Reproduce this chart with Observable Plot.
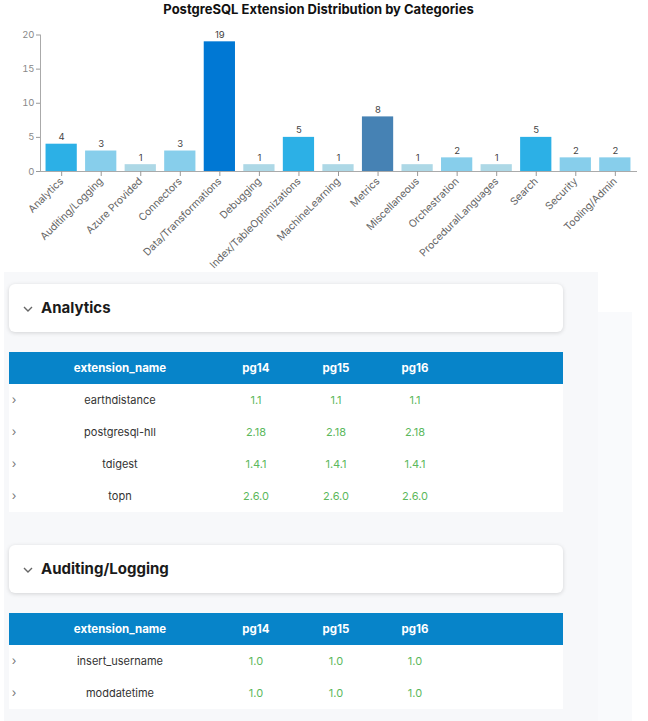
<!DOCTYPE html>
<html>
<head>
<meta charset="utf-8">
<script src="https://cdn.jsdelivr.net/npm/d3@7"></script>
<script src="https://cdn.jsdelivr.net/npm/@observablehq/plot@0.6"></script>
<style>
  html, body { margin: 0; padding: 0; background: #fff; }
  body { width: 648px; height: 721px; overflow: hidden; position: relative; font-family: Inter, "Open Sans", sans-serif; }
  #title { position: absolute; top: 0; left: 0; width: 637px; height: 20px; line-height: 18px; text-align: center; font-weight: 700; font-size: 13px; color: #111; }
  #chart { position: absolute; top: 20px; left: 0; }
  #panel { position: absolute; top: 272px; left: 4px; width: 594px; height: 449px; background: #f7f8fa; }
  #panel2 { position: absolute; top: 312px; left: 598px; width: 34px; height: 409px; background: #f9fafc; }
  .card { position: absolute; left: 9px; width: 554px; height: 48px; background: #fff; border-radius: 6px; box-shadow: 0 1px 4px rgba(0,0,0,0.15); }
  .card .name { position: absolute; left: 32px; top: 0; line-height: 48px; font-weight: 700; font-size: 15px; color: #1a1a1a; }
  .thead { position: absolute; left: 9px; width: 554px; height: 32px; background: #0784c9; }
  .row { position: absolute; left: 9px; width: 554px; height: 32px; background: #fff; }
  .cell { position: absolute; top: 0; height: 32px; line-height: 32px; text-align: center; white-space: nowrap; }
  .thead .cell { color: #fff; font-weight: 700; font-size: 11.5px; }
  .row .cell { color: #333; font-size: 11px; }
  .row .ver { color: #5cb85c; font-size: 11px; }
  .row .arrow { color: #777; font-size: 12px; }
</style>
</head>
<body>
<div id="title">PostgreSQL Extension Distribution by Categories</div>
<div id="chart"></div>
<div id="panel"></div>
<div id="panel2"></div>
<div id="sections"></div>
<script>
// ---- chart data ----
const categories = ["Analytics", "Auditing/Logging", "Azure Provided", "Connectors", "Data/Transformations", "Debugging", "Index/TableOptimizations", "MachineLearning", "Metrics", "Miscellaneous", "Orchestration", "ProceduralLanguages", "Search", "Security", "Tooling/Admin"];
const counts = [4, 3, 1, 3, 19, 1, 5, 1, 8, 1, 2, 1, 5, 2, 2];
const yTicks = [0, 5, 10, 15, 20];

// ---- table data ----
const sectionNames = ["Analytics", "Auditing/Logging"];
const analyticsExtensions = ["earthdistance", "postgresql-hll", "tdigest", "topn"];
const analyticsPg14 = ["1.1", "2.18", "1.4.1", "2.6.0"];
const analyticsPg15 = ["1.1", "2.18", "1.4.1", "2.6.0"];
const analyticsPg16 = ["1.1", "2.18", "1.4.1", "2.6.0"];
const auditingExtensions = ["insert_username", "moddatetime"];
const auditingPg14 = ["1.0", "1.0"];
const auditingPg15 = ["1.0", "1.0"];
const auditingPg16 = ["1.0", "1.0"];
const columnNames = ["extension_name", "pg14", "pg15", "pg16"];

const rows = categories.map((c, i) => ({category: c, count: counts[i]}));

const chart = Plot.plot({
  width: 648,
  height: 250,
  marginLeft: 40,
  marginRight: 12,
  marginTop: 14.5,
  marginBottom: 99,
  style: {fontFamily: "Inter, 'Open Sans', sans-serif", fontSize: "9px", color: "#777", background: "transparent"},
  x: {domain: categories, paddingInner: 0.21, paddingOuter: 0.14, round: false, label: null},
  y: {domain: [0, 20], label: null},
  color: {type: "threshold", domain: [2, 4, 6, 10], range: ["#add8e6", "#87ceeb", "#2cb0e6", "#4682b4", "#0078d4"]},
  marks: [
    Plot.barY(rows, {x: "category", y: "count", fill: "count"}),
    Plot.text(rows, {x: "category", y: "count", text: d => String(d.count), dy: -7, fill: "#444", fontSize: 9.5}),
    Plot.frame({anchor: "left", stroke: "#aaa"}),
    Plot.frame({anchor: "bottom", stroke: "#aaa"}),
    Plot.axisY({ticks: yTicks, tickSize: 4, tickPadding: 2, stroke: "#999", fill: "#888", fontSize: 9.5, label: null}),
    Plot.axisX({tickRotate: -45, tickSize: 5, tickPadding: 3, stroke: "#999", fill: "#666", fontSize: 10.3, label: null})
  ]
});
document.getElementById("chart").appendChild(chart);

// ---- sections ----
const sections = [
  {name: sectionNames[0], ext: analyticsExtensions, v14: analyticsPg14, v15: analyticsPg15, v16: analyticsPg16},
  {name: sectionNames[1], ext: auditingExtensions, v14: auditingPg14, v15: auditingPg15, v16: auditingPg16}
];
const colCenters = [111, 247, 327, 406]; // relative to table left
const colWidth = [170, 80, 80, 80];
const root = document.getElementById("sections");
let yPos = 284;
function cell(parent, text, center, w, cls) {
  const s = document.createElement("span");
  s.className = "cell" + (cls ? " " + cls : "");
  s.style.left = (center - w / 2) + "px";
  s.style.width = w + "px";
  s.textContent = text;
  parent.appendChild(s);
}
sections.forEach(sec => {
  const card = document.createElement("div");
  card.className = "card";
  card.style.top = yPos + "px";
  card.innerHTML = '<svg viewBox="0 0 10 8" style="position:absolute;left:14px;top:21px;width:10px;height:8px"><path d="M1 2 L5 6 L9 2" fill="none" stroke="#666" stroke-width="1.4"/></svg>';
  const nm = document.createElement("span");
  nm.className = "name";
  nm.textContent = sec.name;
  card.appendChild(nm);
  root.appendChild(card);
  yPos += 68;
  const head = document.createElement("div");
  head.className = "thead";
  head.style.top = yPos + "px";
  columnNames.forEach((c, i) => cell(head, c, colCenters[i], colWidth[i]));
  root.appendChild(head);
  yPos += 32;
  sec.ext.forEach((e, i) => {
    const r = document.createElement("div");
    r.className = "row";
    r.style.top = yPos + "px";
    const a = document.createElement("span");
    a.className = "cell arrow";
    a.style.left = "0px"; a.style.width = "10px";
    a.textContent = "›";
    r.appendChild(a);
    cell(r, e, colCenters[0], colWidth[0]);
    cell(r, sec.v14[i], colCenters[1], colWidth[1], "ver");
    cell(r, sec.v15[i], colCenters[2], colWidth[2], "ver");
    cell(r, sec.v16[i], colCenters[3], colWidth[3], "ver");
    root.appendChild(r);
    yPos += 32;
  });
  yPos += 33;
});
</script>
</body>
</html>
